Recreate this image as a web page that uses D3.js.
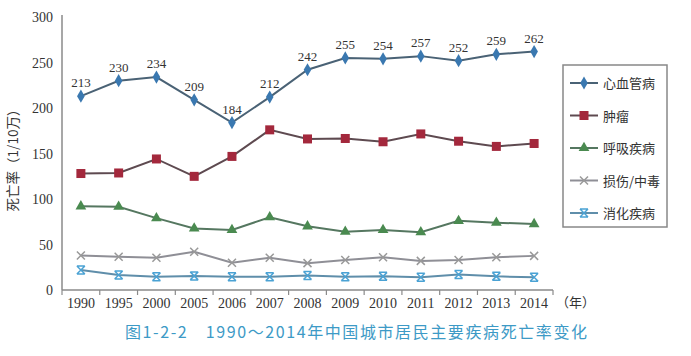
<!DOCTYPE html>
<html><head><meta charset="utf-8">
<script src="https://cdn.jsdelivr.net/npm/d3@7"></script>
<style>body{margin:0;background:#fff;}svg{display:block;}</style>
</head><body>
<script>
const years = ["1990","1995","2000","2005","2006","2007","2008","2009","2010","2011","2012","2013","2014"];
const cardio = [213,230,234,209,184,212,242,255,254,257,252,259,262];
const tumor = [128,128.6,144,124.9,146.8,176,166,166.5,162.9,171.5,163.5,157.8,161];
const resp = [92,91.5,79,67.6,66,80,70,64,66,63.5,76,74,72.5];
const injury = [38,36.5,35.5,42,30,35.5,29.5,33,36,32,33,36,37.5];
const digest = [22,16.5,14.5,15.5,14.5,14.5,16,14.5,15,14,17,15,14];
const yTicks = [0,50,100,150,200,250,300];
const seriesNames = ["心血管病","肿瘤","呼吸疾病","损伤/中毒","消化疾病"];
const yTitle = "死亡率（1/10万）";
const xUnit = "（年）";
const caption = "图1-2-2　1990～2014年中国城市居民主要疾病死亡率变化";

const W=691,H=356;
const svg=d3.select("body").append("svg").attr("width",W).attr("height",H);
const x=d3.scaleBand().domain(years).range([62,553]);
const y=d3.scaleLinear().domain([0,300]).range([290,17]);

const series=[
 {name:seriesNames[0],vals:cardio,line:"#4a6275",mark:"#3a78b0",sym:"diamond"},
 {name:seriesNames[1],vals:tumor,line:"#5e4a50",mark:"#a3283c",sym:"square"},
 {name:seriesNames[2],vals:resp,line:"#557760",mark:"#4a8a50",sym:"triangle"},
 {name:seriesNames[3],vals:injury,line:"#8f8f96",mark:"#999",sym:"x"},
 {name:seriesNames[4],vals:digest,line:"#5f8eaa",mark:"#4aa2d4",sym:"star"}
];

const serif="'Liberation Serif','DejaVu Serif',serif";
const cjk="'Noto Sans CJK SC',sans-serif";
svg.append("line").attr("x1",62).attr("x2",62).attr("y1",15).attr("y2",290).attr("stroke","#8a8a8a").attr("stroke-width",1.5);
svg.append("line").attr("x1",62).attr("x2",553).attr("y1",290).attr("y2",290).attr("stroke","#8a8a8a").attr("stroke-width",1.5);
const bounds=years.map(d=>x(d)).concat([x.range()[1]]);
svg.selectAll(".xt").data(bounds).join("line").attr("x1",d=>d).attr("x2",d=>d).attr("y1",290).attr("y2",295).attr("stroke","#8a8a8a").attr("stroke-width",1.2);
svg.selectAll(".yl").data(yTicks).join("text").attr("x",53).attr("y",d=>y(d)+5).attr("text-anchor","end")
 .attr("font-family",serif).attr("font-size",14).attr("fill","#333").text(d=>d);
svg.selectAll(".xl").data(years).join("text").attr("x",d=>x(d)+x.bandwidth()/2).attr("y",308).attr("text-anchor","middle")
 .attr("font-family",serif).attr("font-size",14).attr("fill","#333").text(d=>d);
svg.append("text").attr("x",556).attr("y",307).attr("font-family",cjk).attr("font-size",13).attr("fill","#333").text(xUnit);
svg.append("text").attr("transform","translate(18,157) rotate(-90)").attr("text-anchor","middle")
 .attr("font-family",cjk).attr("font-size",13.5).attr("fill","#333").text(yTitle);

const cx=i=>x(years[i])+x.bandwidth()/2;
const line=d3.line().x((d,i)=>cx(i)).y(d=>y(d));

function marker(g,sym,color,px,py){
  if(sym==="diamond"){g.append("path").attr("d",d3.symbol(d3.symbolDiamond,50)()).attr("transform",`translate(${px},${py})`).attr("fill",color);}
  else if(sym==="square"){g.append("rect").attr("x",px-4.5).attr("y",py-4.5).attr("width",9).attr("height",9).attr("fill",color);}
  else if(sym==="triangle"){g.append("path").attr("d",d3.symbol(d3.symbolTriangle,50)()).attr("transform",`translate(${px},${py})`).attr("fill",color);}
  else if(sym==="x"){g.append("path").attr("d",`M${px-4},${py-4}L${px+4},${py+4}M${px-4},${py+4}L${px+4},${py-4}`).attr("stroke",color).attr("stroke-width",1.5);}
  else {g.append("path").attr("d",`M${px-4},${py-4}L${px+4},${py+4}M${px-4},${py+4}L${px+4},${py-4}M${px-4},${py-4}L${px+4},${py-4}M${px-4},${py+4}L${px+4},${py+4}`).attr("stroke",color).attr("stroke-width",1.5);}
}

series.forEach(s=>{
  const g=svg.append("g");
  g.append("path").attr("d",line(s.vals)).attr("fill","none").attr("stroke",s.line).attr("stroke-width",2);
  s.vals.forEach((v,i)=>marker(g,s.sym,s.mark,cx(i),y(v)));
});
svg.selectAll(".dl").data(cardio).join("text").attr("x",(d,i)=>cx(i)).attr("y",d=>y(d)-9).attr("text-anchor","middle")
 .attr("font-family",serif).attr("font-size",13).attr("fill","#333").text(d=>d);

svg.append("rect").attr("x",563).attr("y",65).attr("width",104).attr("height",162).attr("fill","#fff").attr("stroke","#888").attr("stroke-width",1.5);
series.forEach((s,i)=>{
  const ly=83+i*32.5;
  const g=svg.append("g");
  g.append("line").attr("x1",570).attr("x2",598).attr("y1",ly).attr("y2",ly).attr("stroke",s.line).attr("stroke-width",2);
  marker(g,s.sym,s.mark,584,ly);
  g.append("text").attr("x",603).attr("y",ly+5).attr("font-family",cjk).attr("font-size",13).attr("fill","#333").text(s.name);
});

svg.append("text").attr("x",125).attr("y",338).attr("font-family",cjk).attr("font-size",16)
 .attr("textLength",462).attr("lengthAdjust","spacing").attr("fill","#3d9ac6").text(caption);
</script>
</body></html>
